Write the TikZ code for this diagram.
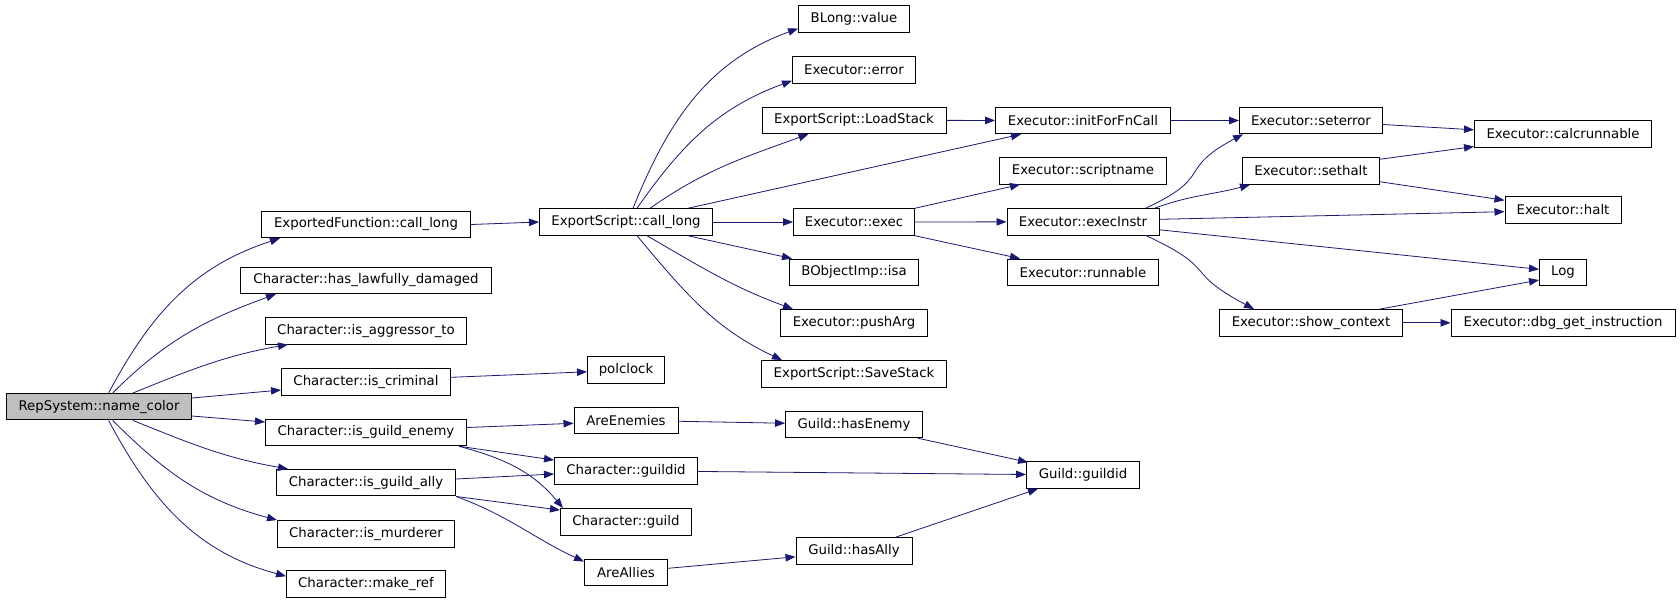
\documentclass[tikz,border=0pt]{standalone}
\usepackage{fontspec}
\setmainfont{DejaVu Sans}
\usetikzlibrary{arrows.meta}
\definecolor{dxEdge}{HTML}{191970}
\definecolor{dxRoot}{HTML}{BFBFBF}

\begin{document}
\begin{tikzpicture}[x=1pt,y=1pt,font=\fontsize{13.3}{16}\selectfont,
    fn/.style={draw=black,fill=white,line width=1pt,inner xsep=2pt,inner ysep=0pt,
               minimum height=26.5pt},
    rootfn/.style={fn,fill=dxRoot},
    call/.style={-{Triangle[length=10pt,width=7.5pt]},dxEdge,line width=0.8pt}]
  \useasboundingbox (0,0) rectangle (1680,-603);
  % root
  \node[rootfn,minimum width=185pt] (rep) at (99,-406.7) {RepSystem::name\_color};
  % first column
  \node[fn,minimum width=209pt] (expfn)  at (366,-224.5) {ExportedFunction::call\_long};
  \node[fn,minimum width=251pt] (lawful) at (366,-280.3) {Character::has\_lawfully\_damaged};
  \node[fn,minimum width=201pt] (aggr)   at (366,-330.8) {Character::is\_aggressor\_to};
  \node[fn,minimum width=169pt] (crim)   at (366,-382)   {Character::is\_criminal};
  \node[fn,minimum width=201pt] (genemy) at (366,-432.5) {Character::is\_guild\_enemy};
  \node[fn,minimum width=179pt] (gally)  at (366,-482.7) {Character::is\_guild\_ally};
  \node[fn,minimum width=177pt] (murd)   at (366,-533.8) {Character::is\_murderer};
  \node[fn,minimum width=159pt] (mkref)  at (366,-584.2) {Character::make\_ref};
  % second column
  \node[fn,minimum width=173pt] (escall) at (626,-222)   {ExportScript::call\_long};
  \node[fn,minimum width=77pt]  (polclk) at (626,-369.8) {polclock};
  \node[fn,minimum width=104pt] (areen)  at (626,-420.3) {AreEnemies};
  \node[fn,minimum width=143pt] (cgid)   at (626,-470.8) {Character::guildid};
  \node[fn,minimum width=131pt] (cguild) at (626,-521.8) {Character::guild};
  \node[fn,minimum width=83pt]  (areal)  at (626,-572.3) {AreAllies};
  % third column
  \node[fn,minimum width=111pt] (blong)  at (854,-18.8)  {BLong::value};
  \node[fn,minimum width=123pt] (xerr)   at (854,-70)    {Executor::error};
  \node[fn,minimum width=184pt] (ldstk)  at (854,-120.3) {ExportScript::LoadStack};
  \node[fn,minimum width=121pt] (xexec)  at (854,-222)   {Executor::exec};
  \node[fn,minimum width=129pt] (isa)    at (854,-272.3) {BObjectImp::isa};
  \node[fn,minimum width=147pt] (push)   at (854,-322.8) {Executor::pushArg};
  \node[fn,minimum width=185pt] (svstk)  at (854,-373.8) {ExportScript::SaveStack};
  \node[fn,minimum width=137pt] (hasen)  at (854,-424.5) {Guild::hasEnemy};
  \node[fn,minimum width=116pt] (hasal)  at (854,-550.8) {Guild::hasAlly};
  % fourth column
  \node[fn,minimum width=175pt] (init)   at (1083,-120.5) {Executor::initForFnCall};
  \node[fn,minimum width=167pt] (sname)  at (1083,-170.8) {Executor::scriptname};
  \node[fn,minimum width=152pt] (instr)  at (1083,-221.8) {Executor::execInstr};
  \node[fn,minimum width=151pt] (runbl)  at (1083,-272.3) {Executor::runnable};
  \node[fn,minimum width=113pt] (ggid)   at (1083,-475)   {Guild::guildid};
  % fifth column
  \node[fn,minimum width=143pt] (seterr) at (1311,-120.5) {Executor::seterror};
  \node[fn,minimum width=137pt] (sethalt) at (1311,-171)  {Executor::sethalt};
  \node[fn,minimum width=183pt] (showctx) at (1311,-322.8) {Executor::show\_context};
  % last column
  \node[fn,minimum width=177pt] (calcr)  at (1563,-133.8) {Executor::calcrunnable};
  \node[fn,minimum width=116pt] (halt)   at (1563,-210)   {Executor::halt};
  \node[fn,minimum width=47pt]  (log)    at (1563,-272.3) {Log};
  \node[fn,minimum width=224pt] (dbg)    at (1563,-322.8) {Executor::dbg\_get\_instruction};

  % calls from the root
  \draw[call] (rep.55) to[out=62,in=198] ([xshift=19pt]expfn.south west);
  \draw[call] (rep.45) to[out=45,in=200] ([xshift=36pt]lawful.south west);
  \draw[call] ([xshift=34pt]rep.north) to[out=22,in=190] ([xshift=23pt]aggr.south west);
  \draw[call] ([yshift=8.7pt]rep.east) -- ([yshift=-8pt]crim.west);
  \draw[call] ([yshift=-9.3pt]rep.east) -- ([yshift=10.5pt]genemy.west);
  \draw[call] ([xshift=34pt]rep.south) to[out=-22,in=170] ([xshift=12pt]gally.north west);
  \draw[call] (rep.-45) to[out=-45,in=165] (murd.north west);
  \draw[call] (rep.-55) to[out=-62,in=165] ([yshift=8pt]mkref.west);
  % script calls
  \draw[call] (expfn.east) -- (escall.west);
  \draw[call] ([xshift=7pt]escall.north) to[out=68,in=200] ([yshift=4pt]blong.south west);
  \draw[call] ([xshift=11pt]escall.north) to[out=55,in=200] ([yshift=3pt]xerr.south west);
  \draw[call] ([xshift=24pt]escall.north) to[out=35,in=200] ([xshift=47pt]ldstk.south west);
  \draw[call] ([xshift=62pt]escall.north) -- ([xshift=26pt]init.south west);
  \draw[call] (escall) -- (xexec);
  \draw[call] ([xshift=62pt]escall.south) -- ([xshift=3pt]isa.north west);
  \draw[call] ([xshift=21pt]escall.south) to[out=-30,in=160] ([xshift=13pt]push.north west);
  \draw[call] ([xshift=11pt]escall.south) to[out=-50,in=155] ([xshift=21pt]svstk.north west);
  \draw[call] (ldstk) -- (init);
  % executor calls
  \draw[call] (xexec.north east) -- ([xshift=21pt]sname.south west);
  \draw[call] (xexec) -- (instr);
  \draw[call] (xexec.south east) -- ([xshift=13pt]runbl.north west);
  \draw[call] (init) -- (seterr);
  \draw[call] ([xshift=63pt]instr.north) to[out=25,in=208,looseness=1.6] ([xshift=4pt]seterr.south west);
  \draw[call] ([xshift=72pt]instr.north) to[out=20,in=195] ([xshift=8pt]sethalt.south west);
  \draw[call] ([yshift=2.5pt]instr.east) -- ([yshift=-1.7pt]halt.west);
  \draw[call] ([yshift=-8pt]instr.east) -- ([yshift=3pt]log.west);
  \draw[call] ([xshift=63pt]instr.south) to[out=-25,in=152,looseness=1.6] ([xshift=35pt]showctx.north west);
  \draw[call] ([yshift=-4pt]seterr.east) -- ([yshift=4pt]calcr.west);
  \draw[call] ([yshift=-2pt]sethalt.north east) -- ([yshift=1pt]calcr.south west);
  \draw[call] ([yshift=3pt]sethalt.south east) -- ([yshift=-4pt]halt.north west);
  \draw[call] ([xshift=69pt]showctx.north) -- ([yshift=6pt]log.south west);
  \draw[call] (showctx) -- (dbg);
  % character and guild calls
  \draw[call] ([yshift=4.7pt]crim.east) -- ([yshift=-2pt]polclk.west);
  \draw[call] ([yshift=5pt]genemy.east) -- ([yshift=-3pt]areen.west);
  \draw[call] ([xshift=-8pt]genemy.south east) -- ([yshift=-3pt]cgid.north west);
  \draw[call] ([xshift=-8pt]genemy.south east) to[out=-15,in=130] ([xshift=3pt]cguild.north west);
  \draw[call] ([yshift=3.7pt]gally.east) -- ([yshift=-3.2pt]cgid.west);
  \draw[call] (gally.south east) -- ([yshift=-2pt]cguild.north west);
  \draw[call] (gally.south east) to[out=-20,in=155] ([yshift=-3pt]areal.north west);
  \draw[call] (areen) -- (hasen);
  \draw[call] ([xshift=-5pt]hasen.south east) -- ([xshift=2pt,yshift=-1pt]ggid.north west);
  \draw[call] (cgid) -- (ggid);
  \draw[call] ([yshift=4pt]areal.east) -- ([yshift=-6pt]hasal.west);
  \draw[call] ([xshift=42pt]hasal.north) -- ([xshift=12pt]ggid.south west);
\end{tikzpicture}
\end{document}
